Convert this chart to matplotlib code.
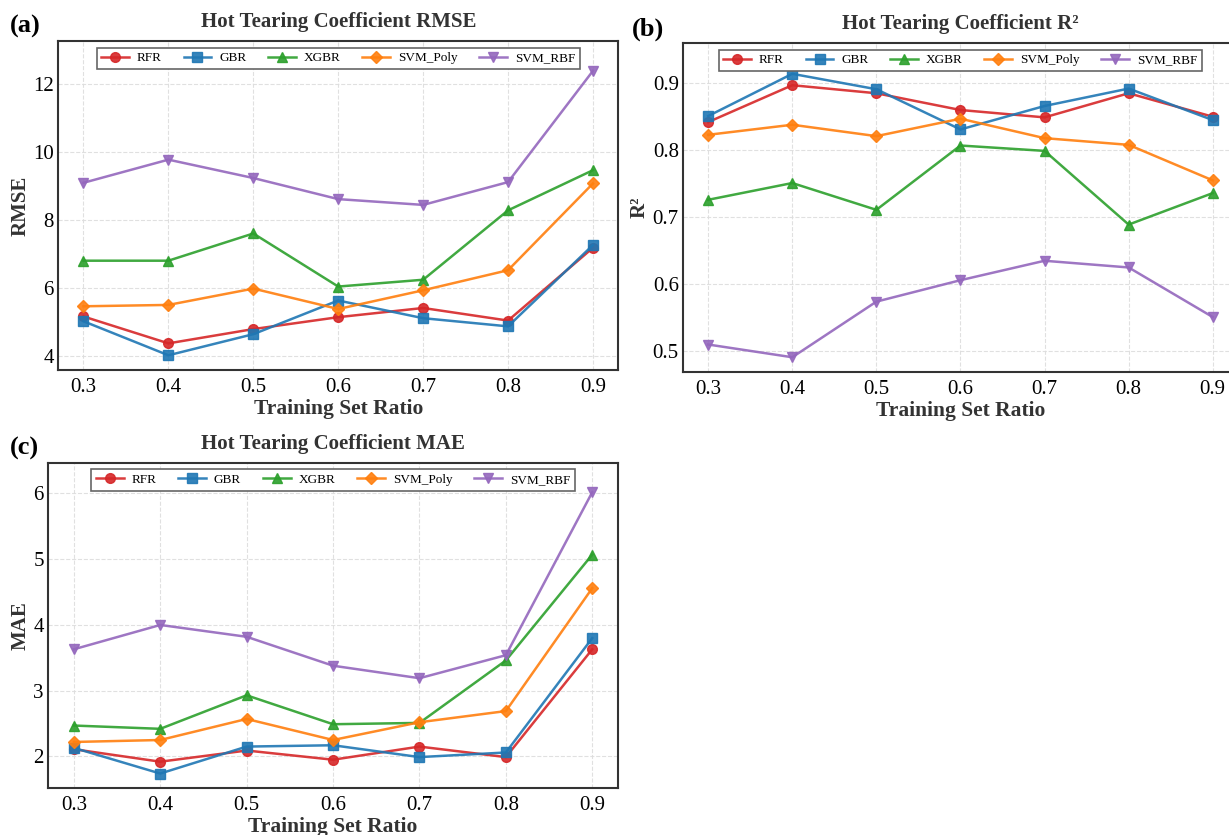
import matplotlib
matplotlib.use("Agg")
import matplotlib.pyplot as plt

plt.rcParams['font.family'] = ['Liberation Serif', 'DejaVu Serif']
plt.rcParams['mathtext.fontset'] = 'stix'

ratios = [0.3, 0.4, 0.5, 0.6, 0.7, 0.8, 0.9]
models = ["RFR", "GBR", "XGBR", "SVM_Poly", "SVM_RBF"]

rmse_rfr = [5.16, 4.37, 4.79, 5.14, 5.41, 5.04, 7.18]
rmse_gbr = [5.02, 4.02, 4.64, 5.63, 5.11, 4.87, 7.26]
rmse_xgbr = [6.80, 6.80, 7.60, 6.04, 6.24, 8.28, 9.46]
rmse_svm_poly = [5.46, 5.50, 5.98, 5.38, 5.93, 6.52, 9.07]
rmse_svm_rbf = [9.09, 9.77, 9.23, 8.61, 8.44, 9.11, 12.38]

r2_rfr = [0.842, 0.897, 0.885, 0.860, 0.849, 0.885, 0.850]
r2_gbr = [0.851, 0.914, 0.891, 0.831, 0.866, 0.892, 0.845]
r2_xgbr = [0.726, 0.751, 0.711, 0.807, 0.799, 0.689, 0.736]
r2_svm_poly = [0.823, 0.838, 0.821, 0.847, 0.818, 0.808, 0.755]
r2_svm_rbf = [0.510, 0.491, 0.574, 0.606, 0.635, 0.625, 0.551]

mae_rfr = [2.11, 1.92, 2.09, 1.95, 2.15, 1.99, 3.63]
mae_gbr = [2.13, 1.74, 2.15, 2.17, 1.99, 2.06, 3.80]
mae_xgbr = [2.47, 2.42, 2.93, 2.49, 2.51, 3.46, 5.07]
mae_svm_poly = [2.22, 2.25, 2.57, 2.25, 2.52, 2.69, 4.56]
mae_svm_rbf = [3.63, 4.00, 3.82, 3.38, 3.19, 3.54, 6.02]

colors = ["#d62728", "#1f77b4", "#2ca02c", "#ff7f0e", "#9467bd"]
markers = ["o", "s", "^", "D", "v"]

fig = plt.figure(figsize=(12.29, 8.35), dpi=100)

panels = [
    ("(a)", "Hot Tearing Coefficient RMSE", "RMSE",
     [rmse_rfr, rmse_gbr, rmse_xgbr, rmse_svm_poly, rmse_svm_rbf],
     [0.0472, 0.557, 0.456, 0.394], (3.59, 13.26), (0.008, 0.968)),
    ("(b)", "Hot Tearing Coefficient R²", "R²",
     [r2_rfr, r2_gbr, r2_xgbr, r2_svm_poly, r2_svm_rbf],
     [0.5557, 0.5545, 0.4516, 0.394], (0.469, 0.960), (0.514, 0.965)),
    ("(c)", "Hot Tearing Coefficient MAE", "MAE",
     [mae_rfr, mae_gbr, mae_xgbr, mae_svm_poly, mae_svm_rbf],
     [0.039, 0.0563, 0.464, 0.3897], (1.52, 6.47), (0.008, 0.463)),
]

for label, title, ylabel, series, pos, ylim, lpos in panels:
    ax = fig.add_axes(pos)
    for name, vals, c, m in zip(models, series, colors, markers):
        ms = 6 if m == "D" else 7
        ax.plot(ratios, vals, color=c, marker=m, markersize=ms, linewidth=1.8,
                alpha=0.9, label=name)
    ax.set_xticks(ratios)
    ax.set_xticklabels([f"{r:.1f}" for r in ratios])
    ax.set_xlim(0.27, 0.93)
    ax.set_ylim(*ylim)
    ax.grid(True, linestyle="--", color="#dddddd", linewidth=0.8, alpha=0.9)
    ax.set_axisbelow(True)
    for sp in ax.spines.values():
        sp.set_color("#333333")
        sp.set_linewidth(1.5)
    ax.tick_params(axis="x", labelsize=15, length=0, pad=6)
    ax.tick_params(axis="y", labelsize=15, length=0, pad=3)
    ax.set_title(title, fontsize=15, fontweight="bold", color="#333333", pad=10)
    ax.set_xlabel("Training Set Ratio", fontsize=15.5, fontweight="bold",
                  color="#333333", labelpad=1)
    ax.set_ylabel(ylabel, fontsize=15, fontweight="bold", color="#333333",
                  labelpad=2)
    leg = ax.legend(loc="upper center", ncol=5, fontsize=9.5, frameon=True,
                    fancybox=False, edgecolor="#666666", framealpha=1,
                    borderpad=0.35, handlelength=2.1, handletextpad=0.6,
                    columnspacing=1.65, bbox_to_anchor=(0.5, 1.0))
    leg.get_frame().set_linewidth(1.2)
    fig.text(lpos[0], lpos[1], label, fontsize=19, fontweight="bold",
             va="center", ha="left")

fig.savefig("out.png", dpi=100)
